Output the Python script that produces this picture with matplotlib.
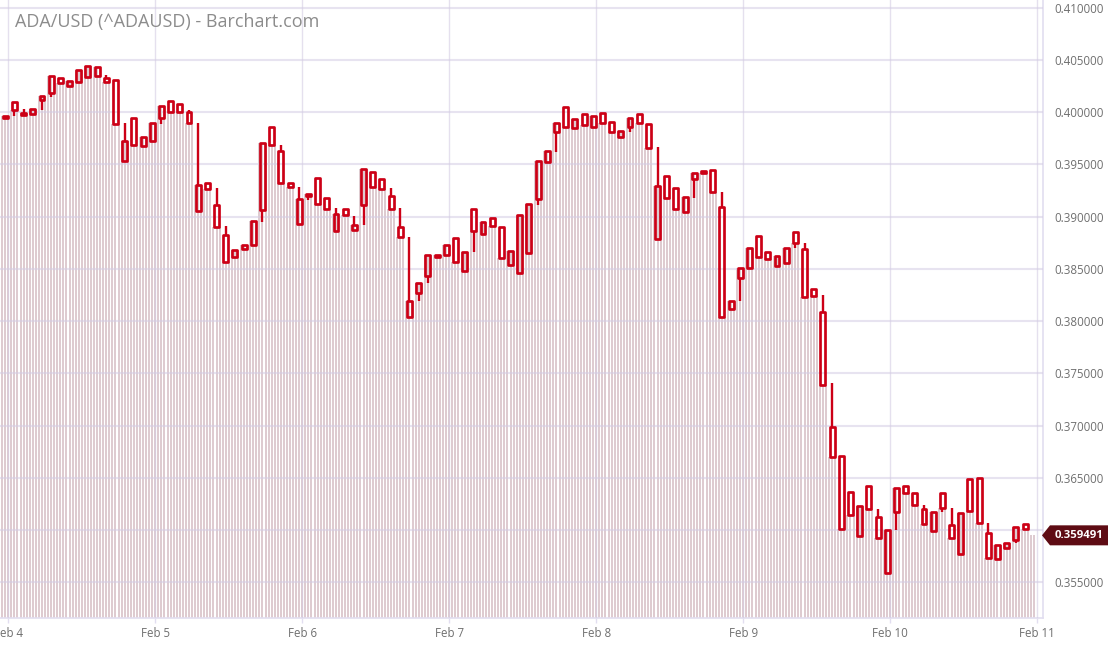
import matplotlib
matplotlib.use("Agg")
import matplotlib.pyplot as plt
import matplotlib.dates as mdates
from matplotlib.patches import Rectangle, Polygon
from matplotlib.transforms import IdentityTransform
import numpy as np
import pandas as pd

# ---------------- data ----------------
title = "ADA/USD (^ADAUSD) - Barchart.com"
start_time = "2023-02-03 23:30"
bar_freq = "90min"

open_ = [0.39943, 0.40099, 0.39972, 0.39978, 0.40115, 0.40185, 0.40328, 0.40246, 0.40290, 0.40338,
         0.40348, 0.40328, 0.40306, 0.39534, 0.39946, 0.39678, 0.39726, 0.39940, 0.40105, 0.40074,
         0.40003, 0.39053, 0.39318, 0.39110, 0.38824, 0.38616, 0.38687, 0.38728, 0.39063, 0.39860,
         0.39627, 0.39318, 0.38929, 0.39201, 0.39366, 0.39175, 0.38865, 0.39072, 0.38871, 0.39110,
         0.39429, 0.39356, 0.39200, 0.38903, 0.38042, 0.38271, 0.38434, 0.38616, 0.38629, 0.38792,
         0.38482, 0.39072, 0.38833, 0.38983, 0.38903, 0.38537, 0.38457, 0.38648, 0.39167, 0.39525,
         0.39812, 0.40051, 0.39844, 0.39978, 0.39854, 0.39988, 0.39902, 0.39761, 0.39854, 0.39984,
         0.39883, 0.38782, 0.39388, 0.39276, 0.39041, 0.39359, 0.39438, 0.39442, 0.39089, 0.38116,
         0.38409, 0.38505, 0.38814, 0.38664, 0.38530, 0.38559, 0.38849, 0.38690, 0.38307, 0.38083,
         0.36983, 0.36708, 0.36366, 0.35942, 0.36424, 0.36127, 0.35591, 0.36175, 0.36421, 0.36351,
         0.36198, 0.35990, 0.36351, 0.36048, 0.35770, 0.36485, 0.36494, 0.35968, 0.35719, 0.35830,
         0.35904, 0.36054]

high = [0.39962, 0.40099, 0.40026, 0.40026, 0.40153, 0.40345, 0.40328, 0.40300, 0.40402, 0.40443,
        0.40434, 0.40354, 0.40306, 0.39892, 0.39946, 0.39758, 0.39892, 0.40060, 0.40105, 0.40074,
        0.40019, 0.39898, 0.39318, 0.39270, 0.38912, 0.38680, 0.38728, 0.38960, 0.39707, 0.39860,
        0.39685, 0.39318, 0.39286, 0.39220, 0.39366, 0.39175, 0.39079, 0.39072, 0.39008, 0.39458,
        0.39429, 0.39356, 0.39270, 0.39079, 0.38807, 0.38361, 0.38632, 0.38635, 0.38725, 0.38792,
        0.38664, 0.39072, 0.38951, 0.38983, 0.38903, 0.38673, 0.39015, 0.39123, 0.39531, 0.39630,
        0.39898, 0.40051, 0.39930, 0.39978, 0.39962, 0.39988, 0.39902, 0.39821, 0.39946, 0.39984,
        0.39883, 0.39663, 0.39388, 0.39276, 0.39184, 0.39414, 0.39438, 0.39442, 0.39238, 0.38192,
        0.38505, 0.38696, 0.38814, 0.38664, 0.38623, 0.38702, 0.38849, 0.38744, 0.38307, 0.38250,
        0.37404, 0.36708, 0.36366, 0.36229, 0.36424, 0.36198, 0.36000, 0.36399, 0.36421, 0.36351,
        0.36239, 0.36169, 0.36351, 0.36207, 0.36165, 0.36485, 0.36494, 0.36064, 0.35856, 0.35872,
        0.36026, 0.36054]

low = [0.39943, 0.39962, 0.39972, 0.39978, 0.40019, 0.40147, 0.40278, 0.40246, 0.40290, 0.40338,
       0.40348, 0.40284, 0.39883, 0.39534, 0.39685, 0.39678, 0.39726, 0.39883, 0.39997, 0.40003,
       0.39892, 0.39053, 0.39266, 0.38903, 0.38568, 0.38616, 0.38687, 0.38728, 0.38951, 0.39685,
       0.39324, 0.39286, 0.38929, 0.39158, 0.39117, 0.39075, 0.38865, 0.39015, 0.38871, 0.38919,
       0.39280, 0.39264, 0.39072, 0.38804, 0.38042, 0.38195, 0.38361, 0.38616, 0.38629, 0.38568,
       0.38482, 0.38664, 0.38833, 0.38912, 0.38601, 0.38537, 0.38457, 0.38648, 0.39110, 0.39525,
       0.39620, 0.39854, 0.39844, 0.39876, 0.39854, 0.39895, 0.39812, 0.39761, 0.39812, 0.39895,
       0.39659, 0.38782, 0.39175, 0.39072, 0.39041, 0.39175, 0.39419, 0.39235, 0.38042, 0.38116,
       0.38192, 0.38505, 0.38616, 0.38594, 0.38530, 0.38559, 0.38696, 0.38233, 0.38243, 0.37387,
       0.36695, 0.36009, 0.36143, 0.35942, 0.36198, 0.35920, 0.35591, 0.36000, 0.36357, 0.36239,
       0.36057, 0.35990, 0.36169, 0.35920, 0.35770, 0.36184, 0.36064, 0.35735, 0.35719, 0.35830,
       0.35872, 0.36006]

close = [0.39962, 0.40019, 0.39994, 0.40026, 0.40153, 0.40345, 0.40278, 0.40300, 0.40402, 0.40443,
         0.40434, 0.40284, 0.39883, 0.39723, 0.39685, 0.39758, 0.39892, 0.40060, 0.39997, 0.40003,
         0.39892, 0.39302, 0.39266, 0.38903, 0.38568, 0.38680, 0.38728, 0.38960, 0.39707, 0.39685,
         0.39324, 0.39286, 0.39165, 0.39220, 0.39117, 0.39075, 0.39022, 0.39015, 0.38922, 0.39458,
         0.39280, 0.39264, 0.39072, 0.38804, 0.38195, 0.38361, 0.38632, 0.38635, 0.38725, 0.38568,
         0.38664, 0.38865, 0.38951, 0.38912, 0.38601, 0.38673, 0.39015, 0.39123, 0.39531, 0.39630,
         0.39898, 0.39854, 0.39930, 0.39876, 0.39962, 0.39895, 0.39812, 0.39821, 0.39946, 0.39895,
         0.39659, 0.39295, 0.39175, 0.39072, 0.39184, 0.39414, 0.39419, 0.39235, 0.38042, 0.38192,
         0.38505, 0.38696, 0.38616, 0.38594, 0.38623, 0.38702, 0.38744, 0.38233, 0.38243, 0.37387,
         0.36695, 0.36009, 0.36143, 0.36229, 0.36198, 0.35920, 0.36000, 0.36399, 0.36357, 0.36239,
         0.36057, 0.36169, 0.36207, 0.35920, 0.36165, 0.36184, 0.36064, 0.35735, 0.35856, 0.35872,
         0.36026, 0.36006]

last_price = 0.359491
y_ticks = [0.355, 0.360, 0.365, 0.370, 0.375, 0.380, 0.385, 0.390, 0.395, 0.400, 0.405, 0.410]
x_tick_dates = ["2023-02-04", "2023-02-05", "2023-02-06", "2023-02-07",
                "2023-02-08", "2023-02-09", "2023-02-10", "2023-02-11"]
x_tick_labels = ["Feb 4", "Feb 5", "Feb 6", "Feb 7", "Feb 8", "Feb 9", "Feb 10", "Feb 11"]

# ---------------- style ----------------
FONT = ["Open Sans", "DejaVu Sans"]
plt.rcParams["font.family"] = FONT
RED = "#cc0016"
STRIPE = "#dcc8cd"
GRID = "#d4cce4"
AXIS_C = "#e2def0"
LABEL_C = "#6f6f6f"

W, H, DPI = 1110, 645, 100
fig = plt.figure(figsize=(W / DPI, H / DPI), dpi=DPI)
ax = fig.add_axes([0, (H - 618) / H, 1043 / W, 618 / H])

times = pd.date_range(start_time, periods=len(close), freq=bar_freq)
x = mdates.date2num(times.values)
hour = 1.0 / 24.0

ylo, yhi = 0.35158, 0.41072
day0 = mdates.date2num(np.datetime64(x_tick_dates[0]))
ax.set_xlim(day0 - 8.3 / 147, day0 + (1043 - 8.3) / 147)
ax.set_ylim(ylo, yhi)

# background stripes (area of closes)
sx, sy = [], []
for xi, ci in zip(x, close):
    for off in (-0.5, 0.0, 0.5):
        sx.append(xi + off * hour)
        sy.append(ci)
for off in (1.0, 1.5):
    sx.append(x[-1] + off * hour)
    sy.append(last_price)
ax.vlines(sx, ylo, sy, color=STRIPE, linewidth=1.35, zorder=1)

# candles
bw = 0.8 * hour
for xi, o, h, l, c in zip(x, open_, high, low, close):
    top, bot = max(o, c), min(o, c)
    if h > top:
        ax.vlines(xi, top, h, color=RED, linewidth=1.7, zorder=4)
    if l < bot:
        ax.vlines(xi, l, bot, color=RED, linewidth=1.7, zorder=4)
    hgt = max(top - bot, 0.00008)
    ax.add_patch(Rectangle((xi - bw / 2, bot), bw, hgt, facecolor="none",
                           edgecolor=RED, linewidth=1.95, joinstyle="round", zorder=5))

# grid + axes
ax.set_yticks(y_ticks)
ax.set_yticklabels([f"{v:.6f}" for v in y_ticks])
ax.yaxis.tick_right()
ax.tick_params(axis="y", length=0, pad=8, labelsize=8.3, labelcolor=LABEL_C)
xt = [mdates.date2num(np.datetime64(d)) for d in x_tick_dates]
ax.set_xticks(xt)
ax.set_xticklabels(x_tick_labels)
ax.tick_params(axis="x", length=3.8, width=1.0, color=AXIS_C, pad=3,
               labelsize=8.3, labelcolor=LABEL_C)
ax.set_axisbelow(False)
ax.grid(axis="y", color=GRID, linewidth=1.5, alpha=0.55)
ax.grid(axis="x", color=GRID, linewidth=1.0, alpha=0.6)
for s in ("top", "left"):
    ax.spines[s].set_visible(False)
for s in ("bottom", "right"):
    ax.spines[s].set_color(AXIS_C)
    ax.spines[s].set_linewidth(1.2)

fig.text(15 / W, 1 - 22 / H, title, fontsize=13, color="#8c8c8c",
         va="center", ha="left", family=FONT)

# last price tag
fig.canvas.draw()
ypix = ax.transData.transform((x[-1], last_price))[1]
pts = [(1042, ypix), (1050, ypix + 10), (1108, ypix + 10), (1108, ypix - 10), (1050, ypix - 10)]
fig.patches.append(Polygon(pts, closed=True, facecolor="#5e0c14", edgecolor="none",
                           transform=IdentityTransform(), figure=fig, zorder=10))
fig.text(1079 / W, ypix / H, f"{last_price:.6f}", color="white", fontsize=8.2,
         fontweight="bold", ha="center", va="center", family=FONT, zorder=11)

fig.savefig("out.png", dpi=DPI)
